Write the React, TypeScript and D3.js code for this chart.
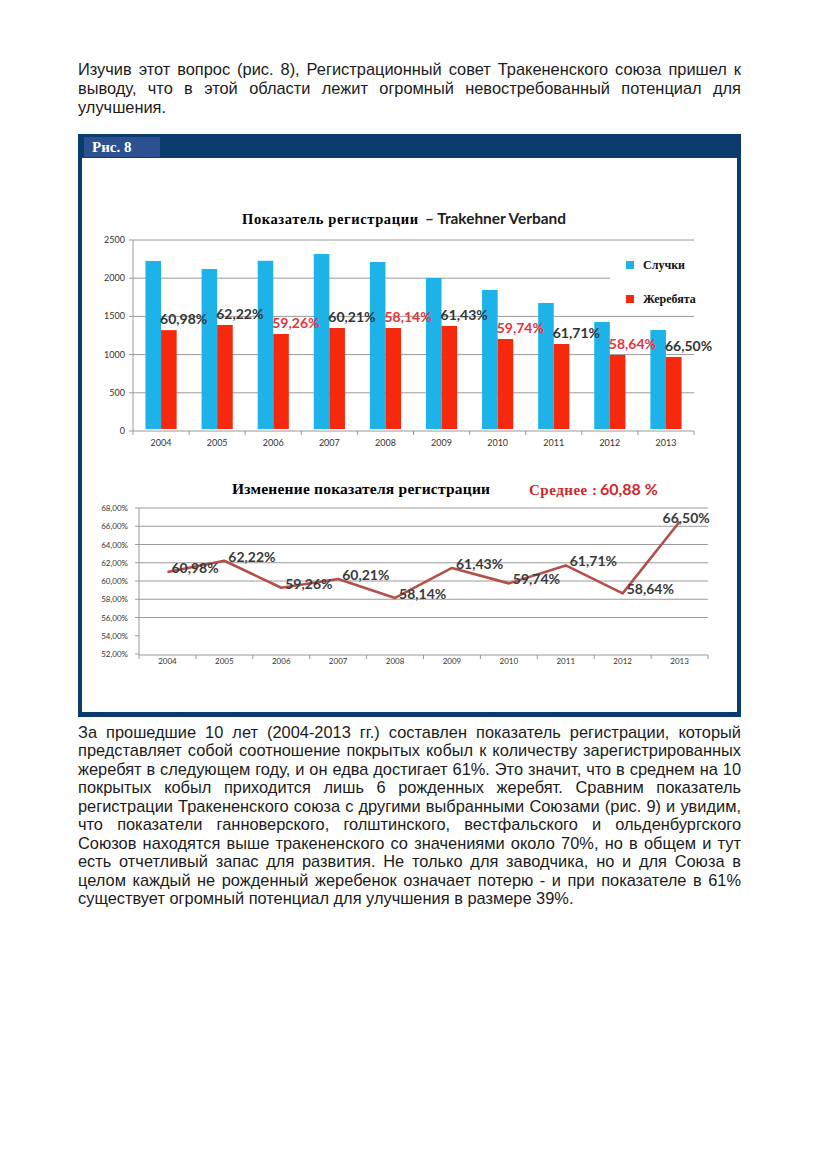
import * as d3 from "d3";

const years = ["2004", "2005", "2006", "2007", "2008", "2009", "2010", "2011", "2012", "2013"];
const covers = [2225, 2120, 2228, 2317, 2212, 2003, 1846, 1676, 1427, 1322];
const foals = [1320, 1388, 1270, 1348, 1348, 1375, 1204, 1139, 995, 969];
const rates = [60.98, 62.22, 59.26, 60.21, 58.14, 61.43, 59.74, 61.71, 58.64, 66.5];
const rateLabels = ["60,98%", "62,22%", "59,26%", "60,21%", "58,14%", "61,43%", "59,74%", "61,71%", "58,64%", "66,50%"];
const barTicks = [0, 500, 1000, 1500, 2000, 2500];
const lineTicks = [52, 54, 56, 58, 60, 62, 64, 66, 68];
const lineGrid = [56, 58, 60, 62, 64, 66, 68];
const seriesNames = ["Случки", "Жеребята"];
const average = "60,88 %";

const introLines = [
  "Изучив этот вопрос (рис. 8), Регистрационный совет Тракененского союза пришел к",
  "выводу, что в этой области лежит огромный невостребованный потенциал для",
  "улучшения.",
];
const bodyLines = [
  "За прошедшие 10 лет (2004-2013 гг.) составлен показатель регистрации, который",
  "представляет собой соотношение покрытых кобыл к количеству зарегистрированных",
  "жеребят в следующем году, и он едва достигает 61%. Это значит, что в среднем на 10",
  "покрытых кобыл приходится лишь 6 рожденных жеребят. Сравним показатель",
  "регистрации Тракененского союза с другими выбранными Союзами (рис. 9) и увидим,",
  "что показатели ганноверского, голштинского, вестфальского и ольденбургского",
  "Союзов находятся выше тракененского со значениями около 70%, но в общем и тут",
  "есть отчетливый запас для развития. Не только для заводчика, но и для Союза в",
  "целом каждый не рожденный жеребенок означает потерю - и при показателе в 61%",
  "существует огромный потенциал для улучшения в размере 39%.",
];

const BLUE = "#1db3e9";
const RED = "#f7280c";
const NAVY = "#0b3a6c";
const LABEL_RED = "#e5333b";
const GRID = "#9a9a9a";
const SERIF = "'Liberation Serif', 'DejaVu Serif', serif";
const SANS = "Lato, 'Open Sans', sans-serif";
const BODY = "'Liberation Sans', Arial, sans-serif";
const BODY_SIZE = 16.4;

const canvas = document.createElement("canvas");
const ctx = canvas.getContext("2d")!;

function Justified({ lines, x, y, lh, width }: { lines: string[]; x: number; y: number; lh: number; width: number }) {
  ctx.font = `${BODY_SIZE}px 'Liberation Sans'`;
  const space = ctx.measureText(" ").width;
  return (
    <g fontFamily={BODY} fontSize={BODY_SIZE} fill="#1b1b1b">
      {lines.map((line, i) => {
        const words = line.split(" ");
        const w = words.map((s) => ctx.measureText(s).width);
        const last = i === lines.length - 1;
        const gap = last ? space : Math.max(2, (width - d3.sum(w)) / (words.length - 1));
        let cx = x;
        return (
          <text key={i} y={y + i * lh}>
            {words.map((s, j) => {
              const t = (
                <tspan key={j} x={cx}>
                  {s}
                </tspan>
              );
              cx += w[j] + gap;
              return t;
            })}
          </text>
        );
      })}
    </g>
  );
}

function BarChart() {
  const x = d3.scaleBand().domain(years).range([133, 694]);
  const inner = d3.scaleBand().domain(["c", "f"]).range([0, x.bandwidth()]).paddingOuter(0.8);
  const y = d3.scaleLinear().domain([0, 2500]).range([431, 240]);
  const bw = inner.bandwidth();
  return (
    <g>
      <text x={242} y={224} fontFamily={SERIF} fontWeight="bold" fontSize={14.5} textLength={176} lengthAdjust="spacing">
        Показатель регистрации
      </text>
      <text x={425} y={224} fontFamily={SANS} fontWeight="bold" fontSize={15} fill="#222" textLength={141} lengthAdjust="spacingAndGlyphs">
        – Trakehner Verband
      </text>
      {barTicks.map((t) => (
        <g key={t}>
          {t > 0 && <line x1={133} x2={694} y1={y(t)} y2={y(t)} stroke={GRID} strokeWidth={1} />}
          <line x1={129} x2={133} y1={y(t)} y2={y(t)} stroke={GRID} />
          <text x={125} y={y(t) + 3} textAnchor="end" fontFamily={SANS} fontSize={9} fill="#333">
            {t}
          </text>
        </g>
      ))}
      <line x1={133} x2={133} y1={240} y2={431} stroke={GRID} />
      <line x1={133} x2={694} y1={431} y2={431} stroke={GRID} />
      {years.map((yr, i) => (
        <g key={yr}>
          <line x1={x(yr)!} x2={x(yr)!} y1={431} y2={435} stroke={GRID} />
          <rect x={x(yr)! + inner("c")!} y={y(covers[i])} width={bw} height={y(0) - y(covers[i]) - 2} fill={BLUE} />
          <rect x={x(yr)! + inner("f")!} y={y(foals[i])} width={bw} height={y(0) - y(foals[i]) - 2} fill={RED} />
          <text x={x(yr)! + x.bandwidth() / 2} y={446} textAnchor="middle" fontFamily={SANS} fontSize={9} fill="#333">
            {yr}
          </text>
        </g>
      ))}
      <line x1={694} x2={694} y1={431} y2={435} stroke={GRID} />
      {years.map((yr, i) => (
        <text
          key={yr}
          x={x(yr)! + inner("f")! - 1}
          y={y(foals[i]) - 6}
          fontFamily={SANS}
          fontWeight="bold"
          fontSize={14}
          fill={rates[i] < 60 ? LABEL_RED : "#333"}
        >
          {rateLabels[i]}
        </text>
      ))}
      <rect x={610} y={249} width={112} height={62} fill="#fff" />
      {seriesNames.map((n, i) => (
        <g key={n}>
          <rect x={626} y={261 + i * 34} width={8} height={8} fill={i === 0 ? BLUE : RED} />
          <text x={643} y={269 + i * 34} fontFamily={SERIF} fontWeight="bold" fontSize={12} fill="#111">
            {n}
          </text>
        </g>
      ))}
    </g>
  );
}

function LineChart() {
  const x = d3.scaleBand().domain(years).range([139, 708]);
  const y = d3.scaleLinear().domain([52, 68]).range([654, 508]);
  const px = (i: number) => x(years[i])! + x.bandwidth() / 2;
  const line = d3
    .line<number>()
    .x((_, i) => px(i))
    .y((d) => y(d));
  return (
    <g>
      <text x={232} y={494} fontFamily={SERIF} fontWeight="bold" fontSize={15.5} textLength={258} lengthAdjust="spacing">
        Изменение показателя регистрации
      </text>
      <text x={529} y={495} fontFamily={SERIF} fontWeight="bold" fontSize={15} fill="#d0262d" textLength={68} lengthAdjust="spacing">
        Среднее :
      </text>
      <text x={600} y={495} fontFamily={SANS} fontWeight="bold" fontSize={16} fill="#d0262d">
        {average}
      </text>
      {lineGrid.map((t) => (
        <line key={t} x1={139} x2={708} y1={y(t)} y2={y(t)} stroke={GRID} />
      ))}
      {lineTicks.map((t) => (
        <g key={t}>
          <line x1={135} x2={139} y1={y(t)} y2={y(t)} stroke={GRID} />
          <text x={128} y={y(t) + 3} textAnchor="end" fontFamily={SANS} fontSize={8} fill="#333">
            {t.toFixed(2).replace(".", ",") + "%"}
          </text>
        </g>
      ))}
      <line x1={139} x2={139} y1={508} y2={655} stroke={GRID} />
      <line x1={139} x2={708} y1={655} y2={655} stroke={GRID} />
      {years.map((yr) => (
        <g key={yr}>
          <line x1={x(yr)!} x2={x(yr)!} y1={655} y2={659} stroke={GRID} />
          <text x={x(yr)! + x.bandwidth() / 2} y={664} textAnchor="middle" fontFamily={SANS} fontSize={8} fill="#333">
            {yr}
          </text>
        </g>
      ))}
      <line x1={708} x2={708} y1={655} y2={659} stroke={GRID} />
      <path d={line(rates)!} fill="none" stroke="#b3504a" strokeWidth={2.6} strokeLinejoin="round" />
      {rates.map((r, i) => (
        <text
          key={i}
          x={i === rates.length - 1 ? px(i) - 17 : px(i) + 4}
          y={y(r) + 1}
          fontFamily={SANS}
          fontWeight="bold"
          fontSize={14}
          fill="#3a3a3a"
        >
          {rateLabels[i]}
        </text>
      ))}
    </g>
  );
}

export default function App() {
  return (
    <svg width={819} height={1158} style={{ position: "absolute", left: 0, top: 0, background: "#fff" }}>
      <rect width={819} height={1158} fill="#fff" />
      <Justified lines={introLines} x={78} y={75} lh={19} width={663} />
      <rect x={78} y={134} width={663} height={583} fill={NAVY} />
      <rect x={82} y={158} width={655} height={554} fill="#fff" />
      <rect x={84} y={137} width={76} height={20} fill="#2b5190" />
      <text x={92} y={152} fontFamily={SERIF} fontWeight="bold" fontSize={15} fill="#fff">
        Рис. 8
      </text>
      <BarChart />
      <LineChart />
      <Justified lines={bodyLines} x={78} y={737.5} lh={18.55} width={663} />
    </svg>
  );
}
